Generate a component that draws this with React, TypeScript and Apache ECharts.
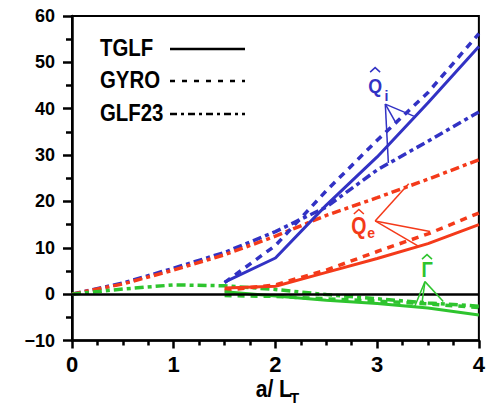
import React, { useEffect, useRef } from 'react';
import * as echarts from 'echarts';

// x positions
const xGLF = [0, 0.5, 1, 1.5, 2, 2.5, 3, 3.5, 4];
const xSim = [1.5, 2, 2.5, 3, 3.5, 4];

// Q_i (blue)
const qiTGLF = [2.6, 7.8, 19.2, 29.6, 41.3, 53.4];
const qiGYRO = [2.5, 10.5, 22.3, 33.2, 43.5, 56.2];
const qiGLF23 = [0, 2.4, 5.6, 9.0, 13.5, 18.8, 26.8, 33.0, 39.3];

// Q_e (red)
const qeTGLF = [1.3, 1.7, 4.7, 7.7, 10.9, 15.0];
const qeGYRO = [0.8, 2.0, 5.2, 9.2, 13.0, 17.5];
const qeGLF23 = [0, 2.2, 5.2, 8.5, 12.5, 17.0, 20.8, 24.8, 29.0];

// Gamma (green)
const gTGLF = [0.5, -0.4, -1.3, -2.0, -3.0, -4.5];
const gGYRO = [-0.3, -0.5, -1.0, -1.5, -2.1, -2.9];
const gGLF23 = [0, 1.1, 2.0, 1.8, 1.0, -0.1, -1.0, -1.9, -2.6];

const xTicks = [0, 1, 2, 3, 4];
const yTicks = [-10, 0, 10, 20, 30, 40, 50, 60];

const legendNames = ['TGLF', 'GYRO', 'GLF23'];

// annotation anchors (data coords)
const qiAnno = { label: [2.98, 45.1], sub: [3.09, 42.7], apex: [3.08, 41.0], ends: [[3.36, 38.4], [3.18, 37.1], [3.11, 28.3]] };
const qeAnno = { label: [2.82, 14.7], sub: [2.94, 13.2], apex: [2.98, 15.8], ends: [[3.31, 23.8], [3.52, 13.5], [3.40, 10.4]] };
const gAnno = { label: [3.49, 5.4], apex: [3.47, 2.7], ends: [[3.37, -2.6], [3.44, -2.0], [3.65, -1.6]] };

const BLUE = '#3232c4';
const RED = '#f43a1a';
const GREEN = '#2ec42e';
const FONT = 'Liberation Sans, Arial, Helvetica, sans-serif';
const DASH = [7, 6];
const DASHDOT = [9, 4, 4, 4];

const pair = (xs: number[], ys: number[]) => xs.map((x, i) => [x, ys[i]]);

function mkSeries(name: string, xs: number[], ys: number[], color: string, type: any, width: number, extra: any = {}) {
  return {
    name,
    type: 'line',
    data: pair(xs, ys),
    symbol: 'none',
    smooth: false,
    lineStyle: { color, width, type },
    z: 3,
    ...extra,
  };
}

export default function App() {
  const ref = useRef<HTMLDivElement>(null);
  useEffect(() => {
    if (!ref.current) return;
    const chart = echarts.init(ref.current, undefined, { renderer: 'svg' });
    const option: any = {
      animation: false,
      backgroundColor: '#fff',
      grid: { left: 72, right: 7.5, top: 16, bottom: 64.5, show: true, borderColor: '#000', borderWidth: 2, backgroundColor: 'transparent' },
      xAxis: {
        type: 'value', min: 0, max: 4, interval: 1,
        axisLine: { show: true, onZero: false, lineStyle: { color: '#000', width: 2.5 } },
        axisTick: { show: true, length: 8, lineStyle: { color: '#000', width: 2.5 } },
        minorTick: { show: true, splitNumber: 4, length: 5, lineStyle: { color: '#000', width: 2.5 } },
        splitLine: { show: false },
        axisLabel: { color: '#000', fontSize: 22, fontWeight: 'bold', fontFamily: FONT, margin: 13,
          formatter: (v: number) => (xTicks.includes(v) ? String(v) : '') },
      },
      yAxis: {
        type: 'value', min: -10, max: 60, interval: 10,
        axisLine: { show: true, onZero: false, lineStyle: { color: '#000', width: 2.5 } },
        axisTick: { show: true, length: 9, lineStyle: { color: '#000', width: 2.5 } },
        minorTick: { show: true, splitNumber: 2, length: 6, lineStyle: { color: '#000', width: 2.5 } },
        splitLine: { show: false },
        axisLabel: { color: '#000', fontSize: 18, fontWeight: 'bold', fontFamily: FONT, margin: 17,
          formatter: (v: number) => (yTicks.includes(v) ? (v < 0 ? '\u2212' + Math.abs(v) : String(v)) : '') },
      },
      series: [
        mkSeries('Qi GLF23', xGLF, qiGLF23, BLUE, DASHDOT, 3.5, {
          markLine: { silent: true, symbol: 'none', label: { show: false }, data: [{ yAxis: 0 }],
            lineStyle: { color: '#000', width: 2.5, type: 'solid' } },
        }),
        mkSeries('Qe GLF23', xGLF, qeGLF23, RED, DASHDOT, 3.5),
        mkSeries('Gamma GLF23', xGLF, gGLF23, GREEN, DASHDOT, 3.5),
        mkSeries('Qi GYRO', xSim, qiGYRO, BLUE, DASH, 3.5),
        mkSeries('Qe GYRO', xSim, qeGYRO, RED, DASH, 3.5),
        mkSeries('Gamma GYRO', xSim, gGYRO, GREEN, DASH, 3.5),
        mkSeries('Qi TGLF', xSim, qiTGLF, BLUE, 'solid', 3),
        mkSeries('Qe TGLF', xSim, qeTGLF, RED, 'solid', 3),
        mkSeries('Gamma TGLF', xSim, gTGLF, GREEN, 'solid', 3),
      ],
    };
    chart.setOption(option);

    const px = (p: number[]) => chart.convertToPixel({ gridIndex: 0 }, p) as number[];
    const graphics: any[] = [];

    // legend
    const legendY = [48, 80, 113];
    const legendDash: any[] = [null, [5, 7], [7, 4, 3, 4]];
    legendNames.forEach((n, i) => {
      graphics.push({
        type: 'text', x: 100, y: legendY[i], scaleX: 0.85, z: 10,
        style: { text: n, fill: '#000', font: `bold 24px ${FONT}`, align: 'left', verticalAlign: 'middle' },
      });
      graphics.push({
        type: 'line', z: 10,
        shape: { x1: 170, y1: legendY[i] + 1, x2: 245, y2: legendY[i] + 1 },
        style: { stroke: '#000', lineWidth: 2.5, lineDash: legendDash[i] || undefined },
      });
    });

    const hat = (cx: number, cy: number, color: string) => ({
      type: 'polyline', z: 10,
      shape: { points: [[cx - 5, cy + 3], [cx, cy - 1.5], [cx + 5, cy + 3]] },
      style: { stroke: color, lineWidth: 1.5, fill: 'none' },
    });

    const anno = (a: any, color: string, main: string, sub: string | null, size: number, hatOff: number) => {
      const lp = px(a.label);
      graphics.push({
        type: 'text', x: lp[0], y: lp[1], scaleX: 0.85, z: 10,
        style: { text: main, fill: color, font: `bold ${size}px ${FONT}`, align: 'center', verticalAlign: 'middle' },
      });
      graphics.push(hat(lp[0], lp[1] - hatOff, color));
      if (sub && a.sub) {
        const sp = px(a.sub);
        graphics.push({
          type: 'text', x: sp[0], y: sp[1], z: 10,
          style: { text: sub, fill: color, font: `bold 14px ${FONT}`, align: 'center', verticalAlign: 'middle' },
        });
      }
      const ap = px(a.apex);
      a.ends.forEach((e: number[]) => {
        const ep = px(e);
        graphics.push({
          type: 'line', z: 10,
          shape: { x1: ap[0], y1: ap[1], x2: ep[0], y2: ep[1] },
          style: { stroke: color, lineWidth: 1.5 },
        });
      });
    };
    anno(qiAnno, BLUE, 'Q', 'i', 21, 16);
    anno(qeAnno, RED, 'Q', 'e', 23, 15);
    anno(gAnno, GREEN, '\u0393', null, 22, 13);

    // axis title
    graphics.push({
      type: 'text', x: 292, y: 389, scaleX: 0.88, z: 10,
      style: { text: 'a/ L', fill: '#000', font: `bold 24px ${FONT}`, align: 'right', verticalAlign: 'middle' },
    });
    graphics.push({
      type: 'text', x: 290, y: 397, z: 10,
      style: { text: 'T', fill: '#000', font: `bold 15px ${FONT}`, align: 'left', verticalAlign: 'middle' },
    });

    chart.setOption({ graphic: graphics });
    return () => chart.dispose();
  }, []);
  return <div ref={ref} style={{ position: 'fixed', left: 0, top: 0, width: 488, height: 405 }} />;
}
